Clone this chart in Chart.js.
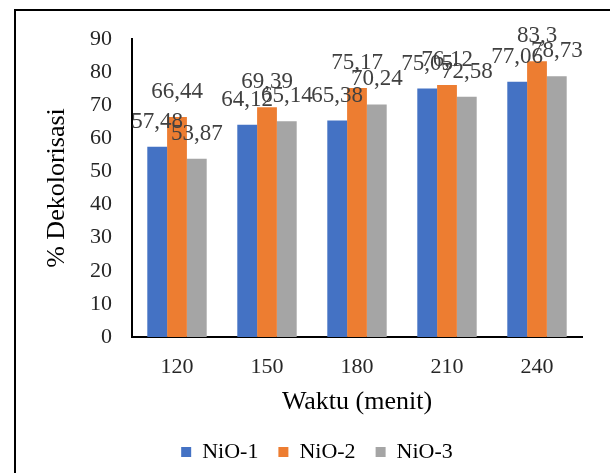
<!DOCTYPE html>
<html>
<head>
<meta charset="utf-8">
<script src="https://cdn.jsdelivr.net/npm/chart.js@4/dist/chart.umd.min.js"></script>
<style>
  html, body { margin: 0; padding: 0; background: #fff; overflow: hidden; }
  #frame { position: absolute; left: 14px; top: 9px; width: 700px; height: 600px; border: 2px solid #000; }
  #wrap { position: absolute; left: 0; top: 0; width: 610px; height: 473px; }
</style>
</head>
<body>
<div id="frame"></div>
<div id="wrap"><canvas id="chartNiO"></canvas></div>
<script>
const etiquetas = ["120", "150", "180", "210", "240"];
const dataNiO1 = [57.48, 64.12, 65.38, 75.05, 77.06];
const dataNiO2 = [66.44, 69.39, 75.17, 76.12, 83.3];
const dataNiO3 = [53.87, 65.14, 70.24, 72.58, 78.73];

const fuente = "'Liberation Serif', 'Times New Roman', serif";

// etiquetas de valor encima de cada barra (coma decimal)
const etiquetasValor = {
    id: 'etiquetasValor',
    afterDatasetsDraw(chart) {
        const ctx = chart.ctx;
        ctx.save();
        ctx.font = "23px " + fuente;
        ctx.fillStyle = '#404040';
        ctx.textAlign = 'center';
        ctx.textBaseline = 'middle';
        chart.data.datasets.forEach((ds, i) => {
            chart.getDatasetMeta(i).data.forEach((bar, j) => {
                ctx.fillText(String(ds.data[j]).replace('.', ','), bar.x, bar.y - 25);
            });
        });
        ctx.restore();
    }
};

// mueve la leyenda para centrarla en el marco
const centrarLeyenda = {
    id: 'centrarLeyenda',
    afterLayout(chart) {
        chart.legend.left += 12;
    }
};

const ctxNiO = document.getElementById('chartNiO').getContext('2d');
const configuracion = {
    type: 'bar',
    data: {
        labels: etiquetas,
        datasets: [{
            label: 'NiO-1',
            data: dataNiO1,
            backgroundColor: '#4472C4'
        }, {
            label: 'NiO-2',
            data: dataNiO2,
            backgroundColor: '#ED7D31'
        }, {
            label: 'NiO-3',
            data: dataNiO3,
            backgroundColor: '#A5A5A5'
        }]
    },
    options: {
        responsive: true,
        maintainAspectRatio: false,
        animation: false,
        layout: {
            padding: { left: 40, right: 28, top: 39, bottom: 0 }
        },
        datasets: {
            bar: { categoryPercentage: 0.66, barPercentage: 1 }
        },
        scales: {
            x: {
                grid: { display: false, drawTicks: false },
                border: { display: true, color: '#000', width: 2 },
                ticks: { color: '#262626', padding: 17, font: { family: fuente, size: 22 } },
                title: {
                    display: true,
                    text: 'Waktu (menit)',
                    color: '#000',
                    padding: { top: 0, bottom: 3 },
                    font: { family: fuente, size: 26 }
                },
                afterFit(scale) { scale.height = 84; }
            },
            y: {
                min: 0,
                max: 90,
                grid: { display: false, drawTicks: false },
                border: { display: true, color: '#000', width: 2 },
                ticks: { stepSize: 10, color: '#262626', padding: 20, font: { family: fuente, size: 22 } },
                title: {
                    display: true,
                    text: '% Dekolorisasi',
                    color: '#000',
                    padding: { top: 2, bottom: 0 },
                    font: { family: fuente, size: 26 }
                },
                afterFit(scale) { scale.width = 92; }
            }
        },
        plugins: {
            legend: {
                display: true,
                position: 'bottom',
                labels: {
                    boxWidth: 10,
                    boxHeight: 10,
                    padding: 20,
                    color: '#000',
                    font: { family: fuente, size: 22 }
                }
            },
            tooltip: { enabled: false }
        }
    },
    plugins: [etiquetasValor, centrarLeyenda]
};
var chartNiO = new Chart(ctxNiO, configuracion);
</script>
</body>
</html>
